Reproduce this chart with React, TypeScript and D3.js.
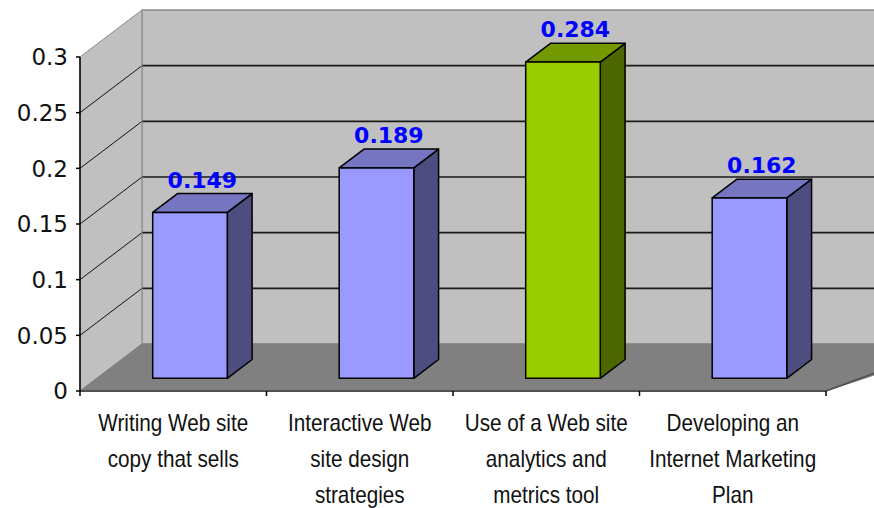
import React from "react";
import * as d3 from "d3";

const categories = [
  "Writing Web site copy that sells",
  "Interactive Web site design strategies",
  "Use of a Web site analytics and metrics tool",
  "Developing an Internet Marketing Plan",
];
const categoryLines = [
  ["Writing Web site", "copy that sells"],
  ["Interactive Web", "site design", "strategies"],
  ["Use of a Web site", "analytics and", "metrics tool"],
  ["Developing an", "Internet Marketing", "Plan"],
];
const values = [0.149, 0.189, 0.284, 0.162];
const valueLabels = ["0.149", "0.189", "0.284", "0.162"];
const highlighted = [false, false, true, false];
const yTicks = [0, 0.05, 0.1, 0.15, 0.2, 0.25, 0.3];
const yTickLabels = ["0", "0.05", "0.1", "0.15", "0.2", "0.25", "0.3"];

const W = 874;
const H = 508;
// depth vector (oblique projection) for full depth
const DX = 62;
const DY = -47;

const x = d3.scaleBand<string>().domain(categories).range([80, 826]).paddingInner(0).paddingOuter(0);
const y = d3.scaleLinear().domain([0, 0.3]).range([391, 57]);

const proj = (px: number, v: number, z: number): [number, number] => [px + z * DX, y(v) + z * DY];
const poly = (pts: [number, number][]) => pts.map((p) => p.join(",")).join(" ");

const Z0 = 0.27;
const ZD = 0.4;
const BAR_FRAC = 0.4;

const blue = { front: "#9999FF", top: "#7575C2", side: "#4D4D80" };
const green = { front: "#99CC00", top: "#729900", side: "#4C6600" };

export default function App() {
  const xL = x.range()[0];
  const xR = x.range()[1];
  const backWall: [number, number][] = [proj(xL, 0.3, 1), proj(xR + 80, 0.3, 1), proj(xR + 80, 0, 1), proj(xL, 0, 1)];
  const leftWall: [number, number][] = [proj(xL, 0, 0), proj(xL, 0.3, 0), proj(xL, 0.3, 1), proj(xL, 0, 1)];
  const floorVisible: [number, number][] = [proj(xL, 0, 0), proj(xL, 0, 1), proj(xR + 80, 0, 1), proj(xR, 0, 0)];
  const bw = x.bandwidth() * BAR_FRAC;

  return (
    <svg width={W} height={H} style={{ position: "absolute", left: 0, top: 0, background: "#fff" }}>
      {/* walls */}
      <polygon points={poly(backWall)} fill="#C0C0C0" stroke="#8a8a8a" strokeWidth={1.5} />
      <polygon points={poly(leftWall)} fill="#C0C0C0" stroke="#8a8a8a" strokeWidth={1} />
      <polygon points={poly(floorVisible)} fill="#808080" stroke="#808080" strokeWidth={1} />
      {/* gridlines */}
      {yTicks.filter((t) => t > 0 && t < 0.3).map((t) => {
        const a = proj(xL, t, 0);
        const b = proj(xL, t, 1);
        const c = proj(xR + 80, t, 1);
        return (
          <g key={t}>
            <line x1={a[0]} y1={a[1]} x2={b[0]} y2={b[1]} stroke="#111" strokeWidth={1} />
            <line x1={b[0]} y1={b[1]} x2={c[0]} y2={c[1]} stroke="#1a1a1a" strokeWidth={1.6} />
          </g>
        );
      })}
      {/* back wall left edge */}
      <line x1={proj(xL, 0, 1)[0]} y1={proj(xL, 0, 1)[1]} x2={proj(xL, 0.3, 1)[0]} y2={proj(xL, 0.3, 1)[1]} stroke="#999" strokeWidth={1} />
      {/* floor front edge and right edge */}
      <line x1={xL} y1={y(0)} x2={xR} y2={y(0)} stroke="#505050" strokeWidth={2} />
      <line x1={xR} y1={y(0)} x2={proj(xR + 80, 0, 0.77)[0]} y2={proj(xR, 0, 1)[1]} stroke="#505050" strokeWidth={1.5} />
      {/* bars */}
      {categories.map((c, i) => {
        const v = values[i];
        const col = highlighted[i] ? green : blue;
        const cx = (x(c) as number) + x.bandwidth() / 2;
        const l = cx - bw / 2;
        const r = cx + bw / 2;
        const fBL = proj(l, 0, Z0);
        const fTL = proj(l, v, Z0);
        const fTR = proj(r, v, Z0);
        const fBR = proj(r, 0, Z0);
        const bTL = proj(l, v, Z0 + ZD);
        const bTR = proj(r, v, Z0 + ZD);
        const bBR = proj(r, 0, Z0 + ZD);
        return (
          <g key={c} stroke="#000" strokeWidth={1.5} strokeLinejoin="round">
            <polygon points={poly([fTR, bTR, bBR, fBR])} fill={col.side} />
            <polygon points={poly([fTL, bTL, bTR, fTR])} fill={col.top} />
            <polygon points={poly([fBL, fTL, fTR, fBR])} fill={col.front} />
          </g>
        );
      })}
      {/* value labels */}
      {categories.map((c, i) => {
        const v = values[i];
        const cx = (x(c) as number) + x.bandwidth() / 2;
        const p = proj(cx, v, Z0 + ZD / 2);
        const top = proj(cx, v, Z0 + ZD)[1];
        return (
          <text
            key={c}
            x={p[0]}
            y={top - 6}
            textAnchor="middle"
            fontFamily="DejaVu Sans, sans-serif"
            fontWeight="bold"
            fontSize={22}
            fill="#0000FF"
          >
            {valueLabels[i]}
          </text>
        );
      })}
      {/* y axis */}
      <line x1={xL} y1={y(0)} x2={xL} y2={y(0.3)} stroke="#000" strokeWidth={1.5} />
      {yTicks.map((t, i) => (
        <g key={t}>
          <line x1={xL - 4} y1={y(t)} x2={xL} y2={y(t)} stroke="#000" strokeWidth={1.5} />
          <text x={xL - 12} y={y(t)} dy="0.36em" textAnchor="end" fontFamily="DejaVu Sans, sans-serif" fontSize={23} fill="#111">
            {yTickLabels[i]}
          </text>
        </g>
      ))}
      {/* x axis ticks */}
      {[...categories.map((c) => x(c) as number), xR].map((px, i) => (
        <line key={i} x1={px} y1={y(0)} x2={px} y2={y(0) + 5} stroke="#000" strokeWidth={1.5} />
      ))}
      {/* x labels */}
      {categories.map((c, i) => {
        const cx = (x(c) as number) + x.bandwidth() / 2;
        return (
          <text
            key={c}
            transform={`translate(${cx},0) scale(0.9,1)`}
            textAnchor="middle"
            fontFamily="Liberation Sans, Arial, sans-serif"
            fontSize={23}
            fill="#111"
          >
            {categoryLines[i].map((ln, j) => (
              <tspan key={j} x={0} y={431 + j * 36}>
                {ln}
              </tspan>
            ))}
          </text>
        );
      })}
    </svg>
  );
}
